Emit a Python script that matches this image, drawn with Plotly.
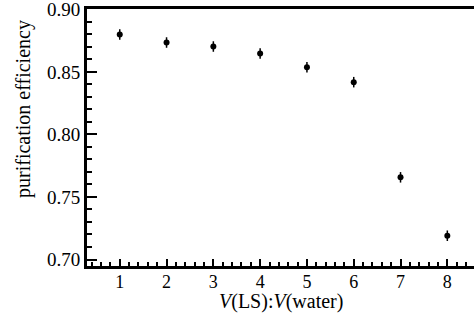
import plotly.graph_objects as go

ratio = [1, 2, 3, 4, 5, 6, 7, 8]
efficiency = [0.880, 0.8735, 0.8703, 0.8647, 0.8538, 0.8418, 0.7657, 0.719]
err = [0.0042, 0.0042, 0.0042, 0.0042, 0.0042, 0.0042, 0.0042, 0.0042]
x_ticks = [1, 2, 3, 4, 5, 6, 7, 8]
y_ticks = [0.70, 0.75, 0.80, 0.85, 0.90]
x_title = "<i>V</i>(LS):<i>V</i>(water)"
y_title = "purification efficiency"

FONT = "Liberation Serif, Times New Roman, serif"

fig = go.Figure(go.Scatter(
    x=ratio, y=efficiency, mode="markers",
    marker=dict(color="black", size=6),
    error_y=dict(type="data", array=err, color="black", thickness=1.5, width=0),
    showlegend=False,
))

fig.update_layout(
    width=474, height=320,
    margin=dict(l=87, r=0, t=9, b=54, autoexpand=False),
    paper_bgcolor="white", plot_bgcolor="white",
    font=dict(family=FONT, size=18, color="black"),
)
fig.update_xaxes(
    range=[0.3, 8.57], tickvals=x_ticks, ticktext=[str(v) for v in x_ticks],
    ticks="inside", ticklen=7, tickwidth=2, tickcolor="black",
    minor=dict(dtick=0.2, tick0=0, ticks="inside", ticklen=4, tickwidth=1.5, tickcolor="black"),
    showline=True, linewidth=3, linecolor="black", mirror=True,
    showgrid=False, zeroline=False, automargin=False, ticklabeloverflow="allow",
    ticklabelstandoff=-3,
    tickfont=dict(family=FONT, size=18),
)
fig.update_yaxes(
    range=[0.6948, 0.9003], tickvals=y_ticks, ticktext=[f"{v:.2f}" for v in y_ticks],
    ticks="inside", ticklen=10, tickwidth=2, tickcolor="black",
    minor=dict(dtick=0.01, tick0=0, ticks="inside", ticklen=5, tickwidth=1.5, tickcolor="black"),
    showline=True, linewidth=3, linecolor="black", mirror=True,
    showgrid=False, zeroline=False, automargin=False, ticklabeloverflow="allow",
    tickfont=dict(family=FONT, size=19),
)
fig.add_annotation(
    text=x_title, xref="paper", yref="paper", x=0.5, y=-0.14, xanchor="center", yanchor="middle",
    showarrow=False, font=dict(family=FONT, size=20),
)
fig.add_annotation(
    text=y_title, xref="paper", yref="paper", x=0, y=0.611, xanchor="center", yanchor="middle",
    xshift=-63, textangle=-90, showarrow=False, font=dict(family=FONT, size=20),
)

fig.write_html(
    "out.html",
    config={"displayModeBar": False},
    post_script="document.body.style.margin='0';document.body.style.padding='0';",
)
